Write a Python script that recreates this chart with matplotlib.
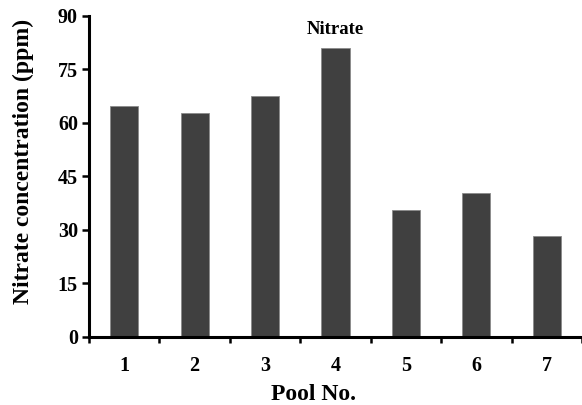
import matplotlib

matplotlib.use("Agg")
import matplotlib.pyplot as plt
import numpy as np

POOLS = ["1", "2", "3", "4", "5", "6", "7"]
NITRATE = [64.8, 62.7, 67.4, 80.9, 35.5, 40.2, 28.3]
Y_TICKS = [0, 15, 30, 45, 60, 75, 90]

BAR_COLOR = "#404040"

plt.rcParams["font.family"] = ["Liberation Serif", "DejaVu Serif"]
plt.rcParams["font.weight"] = "bold"

fig = plt.figure(figsize=(5.82, 4.05), dpi=100)
ax = fig.add_axes([0.153, 0.169, 0.847, 0.792])

x = np.arange(len(POOLS))
ax.bar(x, NITRATE, 0.4, color=BAR_COLOR, edgecolor="#8a8a8a", linewidth=0.6, zorder=2)

ax.set_xlim(-0.5, len(POOLS) - 0.5)
ax.set_ylim(0, 90)
ax.set_yticks(Y_TICKS)
ax.set_yticklabels([str(t) for t in Y_TICKS], fontsize=14.5, fontweight="bold")

# category labels centred, tick marks between categories
ax.set_xticks(x)
ax.set_xticklabels(POOLS, fontsize=14.5, fontweight="bold")
ax.tick_params(axis="x", which="major", length=0, pad=14)
ax.set_xticks(np.arange(-0.5, len(POOLS), 1.0), minor=True)
ax.tick_params(axis="x", which="minor", direction="out", length=4, width=1.8)
ax.tick_params(axis="y", direction="out", length=5, width=1.8, pad=3)

for side in ("top", "right"):
    ax.spines[side].set_visible(False)
for side in ("left", "bottom"):
    ax.spines[side].set_linewidth(2.2)

ax.set_ylabel("Nitrate concentration (ppm)", fontsize=17, fontweight="bold")
ax.yaxis.set_label_coords(-0.112, 0.545)
ax.set_xlabel("Pool No.", fontsize=17, fontweight="bold")
ax.xaxis.set_label_coords(0.456, -0.148)
ax.text(0.5, 0.985, "Nitrate", transform=ax.transAxes, ha="center", va="top",
        fontsize=13.5, fontweight="bold")

fig.savefig("out.png", dpi=100)
